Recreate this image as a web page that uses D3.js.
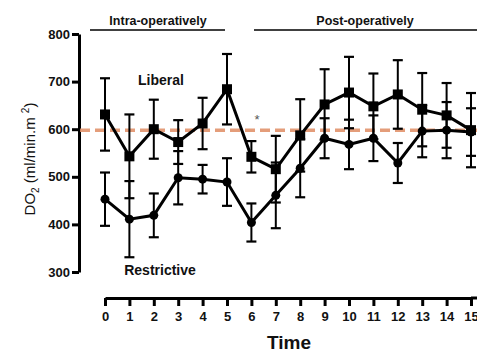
<!DOCTYPE html>
<html><head><meta charset="utf-8">
<script src="https://cdn.jsdelivr.net/npm/d3@7"></script>
<style>body{margin:0;background:#fff}svg{display:block}text{font-family:"Liberation Sans",Arial,sans-serif}</style>
</head><body>
<script>
const times = [0,1,2,3,4,5,6,7,8,9,10,11,12,13,14,15];
const liberalMean = [631,543,600,573,612,684,542,516,587,652,677,648,673,641,629,598];
const liberalErr  = [76,88,62,46,54,74,33,70,76,74,75,69,72,77,68,78];
const restrictiveMean = [453,411,419,498,495,489,404,461,518,581,568,581,529,596,598,594];
const restrictiveErr  = [56,80,46,56,30,50,40,69,61,42,52,48,42,55,59,50];
const yTicks = [300,400,500,600,700,800];
const refValue = 598;

const W=477,H=353;
const svg=d3.select("body").append("svg").attr("width",W).attr("height",H);
const x=d3.scaleLinear().domain([0,15]).range([105,471]);
const y=d3.scaleLinear().domain([300,800]).range([272,34]);

// y axis
const ya=svg.append("g").attr("transform","translate(79,0)")
  .call(d3.axisLeft(y).tickValues(yTicks).tickSize(7).tickSizeOuter(0).tickPadding(2));
ya.selectAll("path,line").attr("stroke","#000").attr("stroke-width",3);
ya.selectAll("text").attr("font-size",13).attr("font-weight","bold").attr("fill","#111");

// x axis
const xa=svg.append("g").attr("transform","translate(0,298)")
  .call(d3.axisBottom(x).tickValues(times).tickSize(8).tickSizeOuter(0).tickPadding(6));
xa.selectAll("path,line").attr("stroke","#000").attr("stroke-width",3);
xa.selectAll("text").attr("font-size",13).attr("font-weight","bold").attr("fill","#111");
svg.append("line").attr("x1",x(15)).attr("x2",W+5).attr("y1",298).attr("y2",298).attr("stroke","#000").attr("stroke-width",3);

// reference dashed line
svg.append("line").attr("x1",80).attr("x2",W).attr("y1",y(refValue)).attr("y2",y(refValue))
  .attr("stroke","#e2936c").attr("stroke-width",3.5).attr("stroke-dasharray","10,5").attr("opacity",0.9);

function drawSeries(mean,err,shape){
  const g=svg.append("g");
  times.forEach((t,i)=>{
    const cx=x(t), top=y(mean[i]+err[i]), bot=y(mean[i]-err[i]);
    g.append("line").attr("x1",cx).attr("x2",cx).attr("y1",top).attr("y2",bot).attr("stroke","#000").attr("stroke-width",2);
    [top,bot].forEach(yy=>g.append("line").attr("x1",cx-5).attr("x2",cx+5).attr("y1",yy).attr("y2",yy).attr("stroke","#000").attr("stroke-width",2.2));
  });
  const line=d3.line().x((d,i)=>x(times[i])).y(d=>y(d));
  g.append("path").datum(mean).attr("d",line).attr("fill","none").attr("stroke","#000").attr("stroke-width",3);
  if(shape==="square"){
    g.selectAll("rect").data(mean).join("rect")
      .attr("x",(d,i)=>x(times[i])-5).attr("y",d=>y(d)-5).attr("width",10).attr("height",10).attr("fill","#000");
  } else {
    g.selectAll("circle").data(mean).join("circle")
      .attr("cx",(d,i)=>x(times[i])).attr("cy",d=>y(d)).attr("r",4.5).attr("fill","#000");
  }
}
drawSeries(restrictiveMean,restrictiveErr,"circle");
drawSeries(liberalMean,liberalErr,"square");

// labels
svg.append("text").attr("x",161).attr("y",85).attr("text-anchor","middle").attr("font-size",14).attr("font-weight","bold").attr("fill","#111").text("Liberal");
svg.append("text").attr("x",160).attr("y",275).attr("text-anchor","middle").attr("font-size",14).attr("font-weight","bold").attr("fill","#111").text("Restrictive");
svg.append("text").attr("x",257).attr("y",124).attr("text-anchor","middle").attr("font-size",13).attr("fill","#555").text("*");

// section headers
svg.append("text").attr("x",158).attr("y",25).attr("text-anchor","middle").attr("font-size",12.5).attr("font-weight","bold").attr("fill","#111").text("Intra-operatively");
svg.append("line").attr("x1",90).attr("x2",225).attr("y1",30).attr("y2",30).attr("stroke","#000").attr("stroke-width",1.5);
svg.append("text").attr("x",365).attr("y",25).attr("text-anchor","middle").attr("font-size",12.5).attr("font-weight","bold").attr("fill","#111").text("Post-operatively");
svg.append("line").attr("x1",254).attr("x2",W).attr("y1",30).attr("y2",30).attr("stroke","#000").attr("stroke-width",1.5);

// axis titles
svg.append("text").attr("x",289).attr("y",349).attr("text-anchor","middle").attr("font-size",19).attr("font-weight","bold").attr("fill","#111").text("Time");
const yt=svg.append("text").attr("transform","translate(35,159) rotate(-90)").attr("text-anchor","middle").attr("font-size",15).attr("fill","#111");
yt.append("tspan").text("DO");
yt.append("tspan").attr("font-size",10).attr("dy",4).text("2");
yt.append("tspan").attr("dy",-4).text(" (ml/min.m ");
yt.append("tspan").attr("font-size",10).attr("dy",-6).text("2");
yt.append("tspan").attr("dy",6).text(")");
</script>
</body></html>
